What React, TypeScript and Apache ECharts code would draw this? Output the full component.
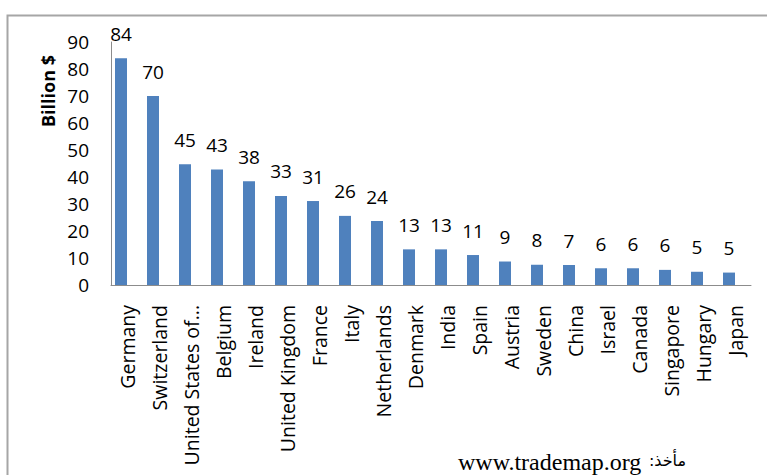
import React, { useEffect, useRef } from "react";
import * as echarts from "echarts";

const categories = [
  "Germany",
  "Switzerland",
  "United States of...",
  "Belgium",
  "Ireland",
  "United Kingdom",
  "France",
  "Italy",
  "Netherlands",
  "Denmark",
  "India",
  "Spain",
  "Austria",
  "Sweden",
  "China",
  "Israel",
  "Canada",
  "Singapore",
  "Hungary",
  "Japan",
];

const values = [84, 70, 44.7, 42.8, 38.4, 33, 31.1, 25.6, 23.7, 13.2, 13.2, 11.1, 8.7, 7.5, 7.4, 6.2, 6.2, 5.6, 4.9, 4.6];

const yTicks = { min: 0, max: 90, interval: 10 };
const yTitle = "Billion $";
const sourceUrl = "www.trademap.org";
const sourceLabel = ":مأخذ";

export default function App() {
  const ref = useRef<HTMLDivElement>(null);
  useEffect(() => {
    if (!ref.current) return;
    const chart = echarts.init(ref.current, null, { renderer: "svg" });
    const font = "'Open Sans', sans-serif";
    chart.setOption({
      animation: false,
      backgroundColor: "#ffffff",
      grid: {
        left: 111,
        right: 16,
        top: 42,
        bottom: 190,
        containLabel: false,
        outerBoundsMode: "none",
      },
      xAxis: {
        type: "category",
        data: categories,
        axisLine: { show: true, lineStyle: { color: "#8c8c8c", width: 1 } },
        axisTick: { show: false },
        axisLabel: {
          rotate: 90,
          margin: 20,
          interval: 0,
          color: "#000",
          fontFamily: font,
          fontSize: 19.5,
        },
      },
      yAxis: {
        type: "value",
        min: yTicks.min,
        max: yTicks.max,
        interval: yTicks.interval,
        splitLine: { show: false },
        axisLine: { show: true, lineStyle: { color: "#8c8c8c", width: 1 } },
        axisTick: { show: false },
        axisLabel: { margin: 22, color: "#000", fontFamily: font, fontSize: 19 },
      },
      series: [
        {
          type: "bar",
          data: values,
          barWidth: 12,
          barGap: "0%",
          itemStyle: { color: "#4f81bd" },
          label: {
            show: true,
            position: "top",
            distance: 15,
            color: "#000",
            fontFamily: font,
            fontSize: 19,
            formatter: (p: any) => String(Math.round(p.value)),
          },
        },
        {
          type: "bar",
          data: [],
          barWidth: 12,
          barGap: "0%",
          silent: true,
          itemStyle: { color: "transparent" },
        },
      ],
      graphic: [
        {
          type: "rect",
          shape: { x: 7.5, y: 15.5, width: 800, height: 500 },
          style: { fill: "none", stroke: "#a6a6a6", lineWidth: 2 },
          silent: true,
        },
        {
          type: "text",
          x: 48,
          y: 91,
          rotation: Math.PI / 2,
          style: {
            text: yTitle,
            fill: "#000",
            font: "bold 18px 'Open Sans', sans-serif",
            textAlign: "center",
            textVerticalAlign: "middle",
          },
        },
        {
          type: "text",
          x: 458,
          y: 462,
          style: {
            text: sourceUrl,
            fill: "#000",
            font: "24px 'Liberation Serif', serif",
            textAlign: "left",
            textVerticalAlign: "middle",
          },
        },
        {
          type: "text",
          x: 686,
          y: 460,
          style: {
            text: sourceLabel,
            fill: "#000",
            font: "16px 'DejaVu Sans', sans-serif",
            textAlign: "right",
            textVerticalAlign: "middle",
          },
        },
      ],
    });
    return () => chart.dispose();
  }, []);
  return (
    <div
      ref={ref}
      style={{ position: "fixed", left: 0, top: 0, width: 767, height: 475 }}
    />
  );
}
